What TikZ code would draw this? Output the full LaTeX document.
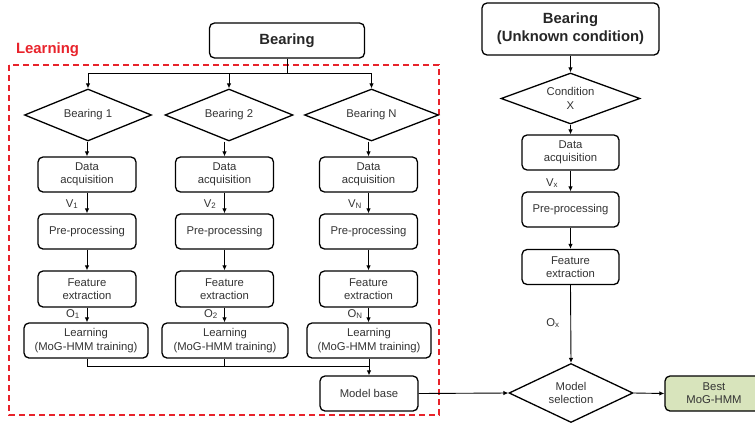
\documentclass[tikz,border=0pt]{standalone}
\usepackage{fontspec}
\setmainfont{Liberation Sans}
\usetikzlibrary{shapes.geometric,arrows.meta}
\definecolor{txt}{HTML}{333333}
\definecolor{redd}{HTML}{E8232B}
\definecolor{bestfill}{HTML}{D8E4BC}
\tikzset{
  box/.style={draw, rounded corners=5pt, line width=1.3pt, align=center, inner sep=0pt,
    text=txt, font=\fontsize{11.3}{13.3}\selectfont, minimum height=35pt},
  bigbox/.style={box, font=\fontsize{14.8}{18}\bfseries\selectfont, text=black!85},
  dia/.style={draw, diamond, aspect=2.5, line width=1.3pt, align=center, inner sep=0pt,
    text=txt, font=\fontsize{11.3}{13.3}\selectfont},
  arr/.style={line width=0.9pt, -{Latex[length=5pt,width=4.5pt]}},
  ln/.style={line width=0.9pt},
  lab/.style={text=txt, font=\fontsize{11.3}{13.3}\selectfont, inner sep=0pt}
}
\begin{document}
\begin{tikzpicture}[x=1pt,y=-1pt]
\useasboundingbox (0,0) rectangle (755,426);
% learning frame
\draw[redd, line width=1.5pt, dash pattern=on 6pt off 4pt] (9,65) rectangle (439,415);
\node[text=redd, font=\fontsize{14.9}{18}\bfseries\selectfont, inner sep=0pt] (learnlab) at (47.5,50) {Learning};

% top
\node[bigbox, minimum width=155pt] (top) at (287,40.5) {Bearing};
\coordinate (junc) at (287,73);

% diamonds
\node[dia, minimum width=127pt, minimum height=52pt] (d1) at (88,115) {Bearing 1};
\node[dia, minimum width=128pt, minimum height=52pt] (d2) at (229,115) {Bearing 2};
\node[dia, minimum width=134pt, minimum height=52pt] (d3) at (371.5,115) {Bearing N};

% columns
\foreach \i/\x in {1/87,2/224.5,3/368.5}{
  \node[box, minimum width=98pt] (a\i) at (\x,174.5) {Data\\acquisition};
  \node[box, minimum width=98pt] (p\i) at (\x,231.5) {Pre-processing};
  \node[box, minimum width=98pt, minimum height=36pt] (f\i) at (\x,289) {Feature\\extraction};
}
\node[box, minimum width=124pt] (l1) at (86,340.5) {Learning\\(MoG-HMM training)};
\node[box, minimum width=126pt] (l2) at (225,340.5) {Learning\\(MoG-HMM training)};
\node[box, minimum width=124pt] (l3) at (369,340.5) {Learning\\(MoG-HMM training)};
\node[box, minimum width=98pt] (mb) at (369,393.5) {Model base};
\coordinate (mj) at (369,366);

% labels
\node[lab] (v1) at (72,204) {V\textsubscript{1}};
\node[lab] (v2) at (210,204) {V\textsubscript{2}};
\node[lab] (v3) at (355,204) {V\textsubscript{N}};
\node[lab] (o1) at (73,314) {O\textsubscript{1}};
\node[lab] (o2) at (211,314) {O\textsubscript{2}};
\node[lab] (o3) at (355,314) {O\textsubscript{N}};

% edges left
\foreach \d in {d1,d2,d3}{ \draw[arr] (top.south) -- (junc) -| (\d.north); }
\foreach \i in {1,2,3}{
  \draw[arr] (a\i.north |- d\i.south) -- (a\i.north);
  \draw[arr] (a\i.south) -- (p\i.north);
  \draw[arr] (p\i.south) -- (f\i.north);
  \draw[arr] (f\i.south) -- (f\i.south |- l\i.north);
}
\draw[ln] (l1.south -| a1.south) |- (mj);
\draw[ln] (l2.south -| a2.south) |- (mj);
\draw[arr] (l3.south) -- (mb.north);

% right column
\node[bigbox, minimum width=177pt, minimum height=52pt] (top2) at (570.5,29) {Bearing\\(Unknown condition)};
\node[dia, minimum width=139pt, minimum height=51pt] (cx) at (570.5,98.5) {Condition\\X};
\node[box, minimum width=97pt] (ra) at (570.5,152.5) {Data\\acquisition};
\node[box, minimum width=97pt] (rp) at (570.5,209.5) {Pre-processing};
\node[box, minimum width=97pt] (rf) at (570.5,267) {Feature\\extraction};
\node[dia, minimum width=124pt, minimum height=59pt] (ms) at (571,393) {Model\\selection};
\node[box, minimum width=98pt, fill=bestfill] (best) at (714,393.5) {Best\\MoG-HMM};
\node[lab] (vx) at (552,183) {V\textsubscript{x}};
\node[lab] (ox) at (553,323) {O\textsubscript{x}};

\draw[arr] (top2.south) -- (cx.north);
\draw[arr] (cx.south) -- (ra.north);
\draw[arr] (ra.south) -- (rp.north);
\draw[arr] (rp.south) -- (rf.north);
\draw[arr] (rf.south) -- (ms.north);
\draw[arr] (mb.east) -- (ms.west);
\draw[arr] (ms.east) -- (best.west);
\end{tikzpicture}
\end{document}
